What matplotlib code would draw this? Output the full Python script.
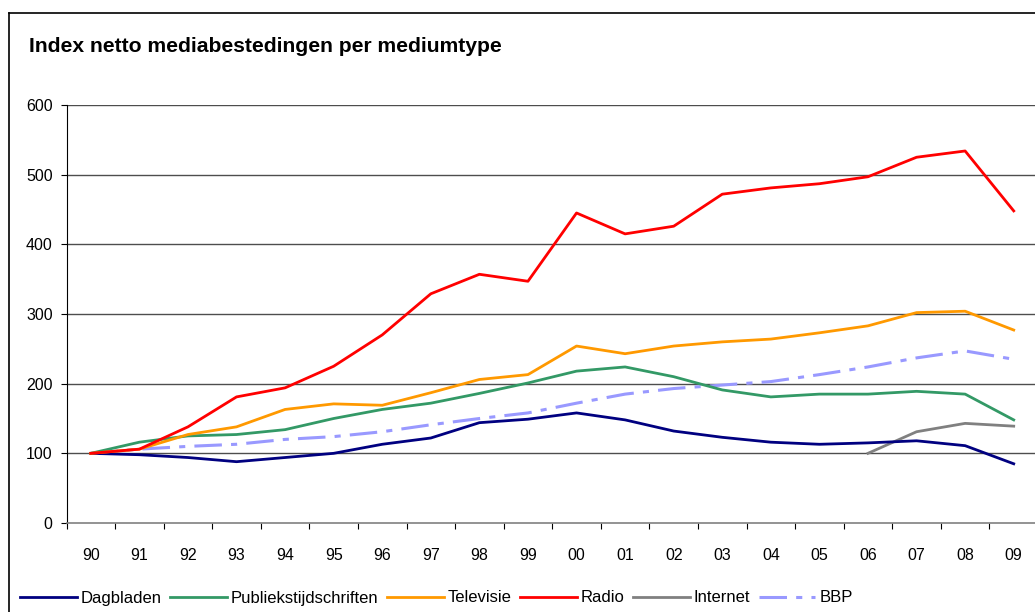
import numpy as np
import matplotlib
matplotlib.use('Agg')
import matplotlib.pyplot as plt
from matplotlib.lines import Line2D

plt.rcParams['font.family'] = ['Liberation Sans', 'DejaVu Sans']

# jaren (categorieen)
years = ['90', '91', '92', '93', '94', '95', '96', '97', '98', '99',
         '00', '01', '02', '03', '04', '05', '06', '07', '08', '09']

# index per mediumtype, 1990 = 100
dagbladen = [100, 98, 94, 88, 94, 100, 113, 122, 144, 149,
             158, 148, 132, 123, 116, 113, 115, 118, 111, 85]
publiek = [100, 116, 125, 127, 134, 150, 163, 172, 186, 201,
           218, 224, 210, 191, 181, 185, 185, 189, 185, 148]
televisie = [100, 106, 127, 138, 163, 171, 169, 187, 206, 213,
             254, 243, 254, 260, 264, 273, 283, 302, 304, 277]
radio = [100, 106, 138, 181, 194, 225, 270, 329, 357, 347,
         445, 415, 426, 472, 481, 487, 497, 525, 534, 448]
internet = [None] * 16 + [100, 131, 143, 139]
bbp = [100, 106, 110, 113, 120, 124, 131, 141, 150, 158,
       172, 185, 193, 198, 203, 213, 224, 237, 247, 235]

W, H = 1035, 612
fig = plt.figure(figsize=(W / 100, H / 100), dpi=100)
fig.patch.set_facecolor('white')

# rand van het grafiekgebied
fig.add_artist(Line2D([9 / W, 9 / W], [0, 1 - 13 / H], color='black', lw=1.2))
fig.add_artist(Line2D([9 / W, 1], [1 - 13 / H, 1 - 13 / H], color='black', lw=1.2))

fig.text(29 / W, 1 - 47 / H, 'Index netto mediabestedingen per mediumtype',
         fontsize=15.2, fontweight='bold', va='center', ha='left')

ax = fig.add_axes([66.5 / W, 1 - 523 / H, (1038 - 66.5) / W, 418 / H])
x = np.arange(len(years))

ax.set_xlim(-0.5, len(years) - 0.5)
ax.set_ylim(0, 600)
ax.set_yticks(range(0, 601, 100))
for v in range(100, 601, 100):
    ax.axhline(v, color='#4d4d4d', lw=1.0, zorder=1)

def series(vals):
    return np.array([np.nan if v is None else v for v in vals], dtype=float)

ax.plot(x, series(internet), color='#808080', lw=2, zorder=3)
ax.plot(x, series(bbp), color='#9999ff', lw=2.2, zorder=3,
        dashes=(9, 3, 2, 3))
ax.plot(x, series(dagbladen), color='#000080', lw=2, zorder=4)
ax.plot(x, series(publiek), color='#339966', lw=2, zorder=4)
ax.plot(x, series(televisie), color='#ff9900', lw=2, zorder=4)
ax.plot(x, series(radio), color='#ff0000', lw=2, zorder=5)

# spines
for s in ['top', 'right']:
    ax.spines[s].set_visible(False)
ax.spines['left'].set_color('black')
ax.spines['bottom'].set_color('#808080')
ax.spines['bottom'].set_linewidth(1.2)

ax.set_xticks(np.arange(-0.5, len(years), 1.0), minor=False)
ax.set_xticklabels([])
ax.set_xticks(x, minor=True)
ax.set_xticklabels(years, minor=True)
ax.tick_params(axis='x', which='major', length=4, direction='out', color='black')
ax.tick_params(axis='x', which='minor', length=0, pad=18, labelsize=11.5)
ax.tick_params(axis='y', length=4, direction='out', pad=6, labelsize=11.5)

handles = [
    Line2D([], [], color='#000080', lw=2),
    Line2D([], [], color='#339966', lw=2),
    Line2D([], [], color='#ff9900', lw=2),
    Line2D([], [], color='#ff0000', lw=2),
    Line2D([], [], color='#808080', lw=2),
    Line2D([], [], color='#9999ff', lw=2.2, dashes=(9, 3, 2, 3)),
]
labels = ['Dagbladen', 'Publiekstijdschriften', 'Televisie', 'Radio',
          'Internet', 'BBP']
fig.legend(handles, labels, loc='center left', bbox_to_anchor=(20 / W, 1 - 598 / H),
           ncol=6, frameon=False, fontsize=12, handlelength=3.4,
           handletextpad=0.25, columnspacing=0.5, borderaxespad=0,
           borderpad=0)

fig.savefig('out.png', dpi=100)
